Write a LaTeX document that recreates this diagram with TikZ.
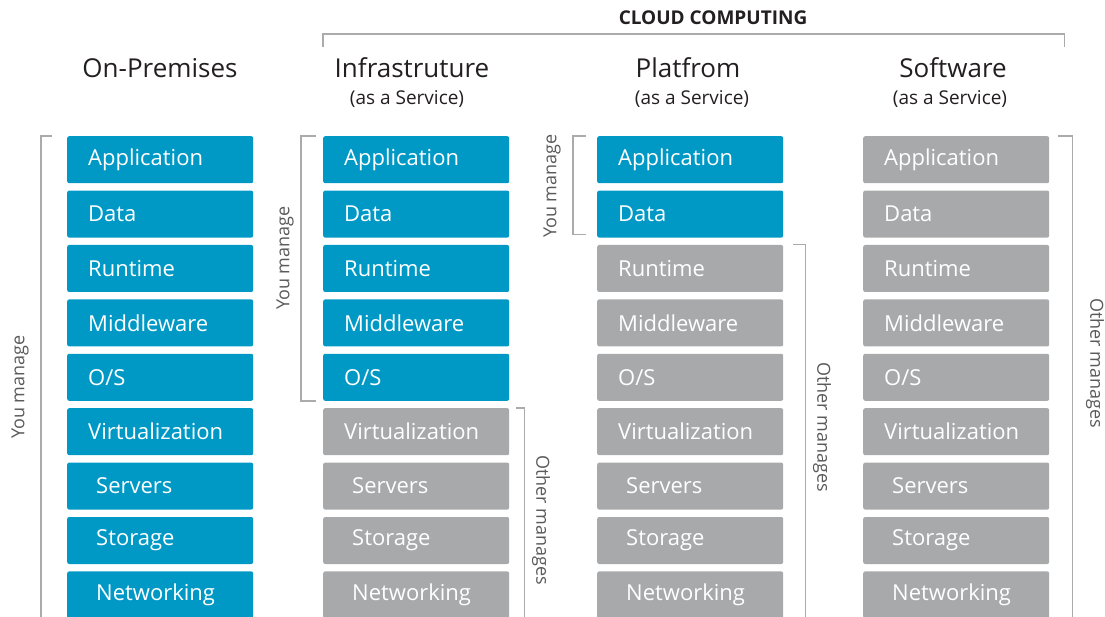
\documentclass[tikz,border=0pt]{standalone}
\usepackage{fontspec}
\setmainfont{Open Sans}
\usetikzlibrary{calc}

\definecolor{stackblue}{HTML}{0099C6}
\definecolor{stackgray}{HTML}{A7A9AB}
\definecolor{brk}{HTML}{ABABAB}
\definecolor{titletext}{HTML}{231F20}
\definecolor{sidetext}{HTML}{5A5A5A}

\tikzset{
  layer/.style={rectangle, rounded corners=2pt, minimum width=186pt, minimum height=47pt,
    inner sep=0pt, text width=186pt, align=left, anchor=north west, text=white,
    font=\fontsize{22pt}{25pt}\selectfont},
  heading/.style={text=titletext, inner sep=0pt, font=\fontsize{26pt}{30pt}\selectfont},
  subheading/.style={text=titletext, inner sep=0pt, font=\fontsize{19pt}{22pt}\selectfont},
  side/.style={text=sidetext, inner sep=0pt, font=\fontsize{18pt}{21pt}\selectfont},
  bracket/.style={draw=brk, line width=1.4pt},
}

\begin{document}
\begin{tikzpicture}[x=1pt, y=-1pt]
\useasboundingbox (0,0) rectangle (1105,617);
\clip (0,0) rectangle (1105,617);

% service stacks: column index / left edge / number of self-managed layers
\foreach \c/\x/\nblue in {1/67/9, 2/323/5, 3/597/2, 4/863/0} {
  \foreach \name/\txt/\ind [count=\i from 0] in
      {app/Application/21, data/Data/21, run/Runtime/21, mid/Middleware/21,
       os/{O/S}/21, virt/Virtualization/21, srv/Servers/29, sto/Storage/29,
       net/Networking/29} {
    \pgfmathsetmacro\ytop{136+54.4*\i}
    \ifnum\i<\nblue \def\fillc{stackblue}\else\def\fillc{stackgray}\fi
    \node[layer, fill=\fillc] (c\c\name) at (\x,\ytop) {\hspace*{\ind pt}\raisebox{-1.5pt}{\txt}};
  }
}

% column headings
\node[heading] (hOn) at (160,68) {On-Premises};
\node[heading] (hIaas) at (412,68) {Infrastruture};
\node[subheading] (sIaas) at (407,99) {(as a Service)};
\node[heading] (hPaas) at (688,68) {Platfrom};
\node[subheading] (sPaas) at (692,99) {(as a Service)};
\node[heading] (hSaas) at (953,68) {Software};
\node[subheading] (sSaas) at (950,99) {(as a Service)};

% cloud computing group
\node[text=titletext, inner sep=0pt, font=\fontsize{19pt}{22pt}\selectfont\bfseries] (cloud) at (713,18) {CLOUD COMPUTING};
\draw[bracket] ($(c2app.north west)+(0,-89)$) |- ($(c4app.north east)+(15,-102)$) -- ++(0,13);

% responsibility brackets
\draw[bracket] ($(c1app.north west)+(-15,0)$) -| ($(c1net.south west)+(-26,30)$);
\node[side, rotate=90] (y1) at (20,387) {You manage};

\draw[bracket] ($(c2app.north west)+(-7,0)$) -- ++(-15,0) |- ($(c2os.south west)+(-7,0)$);
\node[side, rotate=90] (y2) at (285,258) {You manage};
\draw[bracket] ($(c2virt.north east)+(7,0)$) -| ($(c2net.south east)+(15,30)$);
\node[side, rotate=-90] (o2) at (541,520) {Other manages};

\draw[bracket] ($(c3app.north west)+(-11,0)$) -- ++(-13,0) |- ($(c3data.south west)+(-11,-3)$);
\node[side, rotate=90] (y3) at (552,186) {You manage};
\draw[bracket] ($(c3run.north east)+(10,0)$) -| ($(c3net.south east)+(22,30)$);
\node[side, rotate=-90] (o3) at (822,427) {Other manages};

\draw[bracket] ($(c4app.north east)+(9,0)$) -| ($(c4net.south east)+(23,30)$);
\node[side, rotate=-90] (o4) at (1095,363) {Other manages};
\end{tikzpicture}
\end{document}
